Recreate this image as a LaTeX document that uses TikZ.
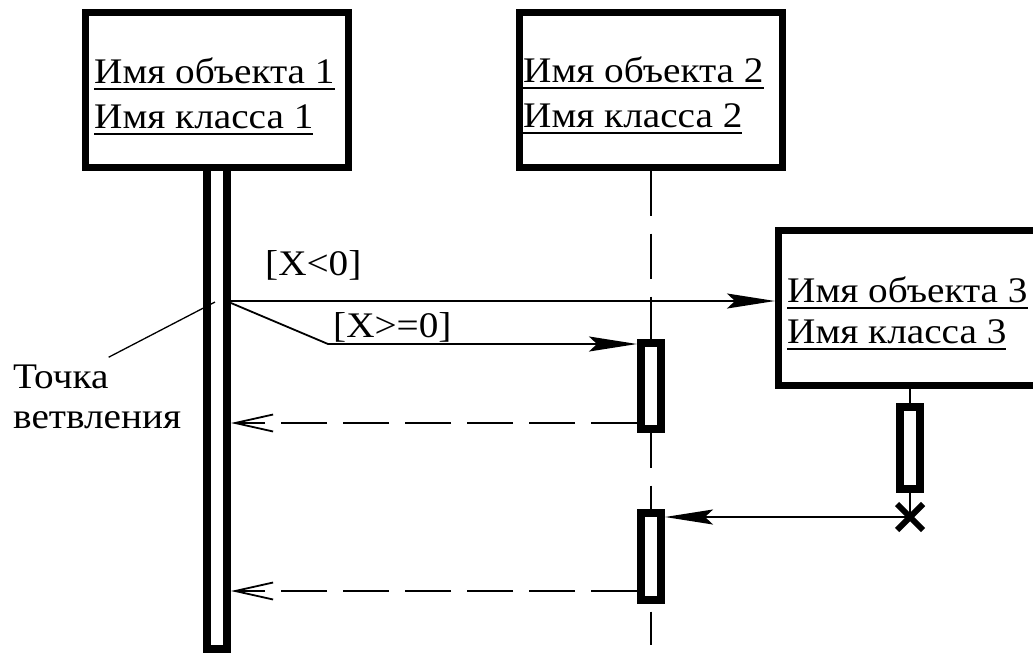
\documentclass[tikz,border=0pt]{standalone}
\usepackage{fontspec}
\setmainfont{Liberation Serif}[FakeStretch=1.09]
\usetikzlibrary{arrows.meta,shapes.misc}
\pgfdeclarelayer{bg}
\pgfsetlayers{bg,main}
\newcommand{\udl}[1]{\leavevmode\setbox0\hbox{#1}\rlap{\rule[-7pt]{\wd0}{2pt}}\box0}
\begin{document}
\begin{tikzpicture}[x=1pt,y=-1pt,
  obj/.style={draw, line width=7pt, minimum width=263pt, minimum height=155pt, inner sep=0pt, fill=white},
  act/.style={draw, line width=8pt, fill=white, inner sep=0pt, minimum width=20pt},
  lbl/.style={font=\fontsize{36}{44}\selectfont, inner sep=0pt, anchor=base west},
  msg/.style={line width=1.8pt, -{Stealth[length=48pt,width=15pt,inset=8pt]}},
  ret/.style={line width=1.8pt, dash pattern=on 46pt off 16pt, -{Straight Barb[length=38pt,width=17pt]}},
  life/.style={line width=1.8pt, dash pattern=on 45pt off 18pt},
  lead/.style={line width=1.3pt},
]
\begin{pgfonlayer}{bg}
  \fill[white] (0,0) rectangle (1033,654);
\end{pgfonlayer}
\path[use as bounding box] (0,0) rectangle (1033,654);
\clip (0,0) rectangle (1033,654);

% object boxes
\node[obj] (o1) at (217,89.5) {};
\node[obj] (o2) at (651,89.5) {};
\node[obj] (o3) at (910,307.5) {};

% box texts
\node[lbl] (t1a) at (94,83) {\udl{Имя объекта 1}};
\node[lbl] (t1b) at (94,128) {\udl{Имя класса 1}};
\node[lbl] (t2a) at (523,82) {\udl{Имя объекта 2}};
\node[lbl] (t2b) at (523,127) {\udl{Имя класса 2}};
\node[lbl] (t3a) at (787,302) {\udl{Имя объекта 3}};
\node[lbl] (t3b) at (787,343) {\udl{Имя класса 3}};

% activation bars
\node[act, minimum height=86pt] (a2a) at (651,386) {};
\node[act, minimum height=87pt] (a2b) at (651,556.5) {};
\node[act, minimum height=82pt] (a3) at (910,448) {};
\node[cross out, draw, line width=6pt, minimum size=20pt, inner sep=0pt] (x3) at (910,517) {};

\begin{pgfonlayer}{bg}
  \node[act, minimum height=489pt] (a1) at (217,404.5) {};
  \coordinate (e2) at (651,645);
  \draw[life] (o2.south) -- (e2);
  \draw[line width=1.8pt] (o3.south) -- (x3.center);
\end{pgfonlayer}

% messages
\coordinate (br) at (328,344);
\draw[msg] (a1.east |- 0,301) -- (o3.west |- 0,301);
\draw[msg] (a1.east |- 0,303) -- (br) -- (a2a.west |- br);
\draw[ret] (a2a.west |- 0,423) -- (a1.east |- 0,423);
\draw[msg] (x3.center) -- (a2b.east |- x3.center);
\draw[ret] (a2b.west |- 0,591) -- (a1.east |- 0,591);

% guard labels
\node[lbl] (g1) at (265,275) {[X<0]};
\node[lbl] (g2) at (333,337) {[X>=0]};

% branch point note
\node[lbl] (tb1) at (13,388) {Точка};
\node[lbl] (tb2) at (13,428) {ветвления};
\coordinate (bp) at (215,302);
\draw[lead] ([yshift=7pt]tb1.north east) -- (bp);
\end{tikzpicture}
\end{document}
